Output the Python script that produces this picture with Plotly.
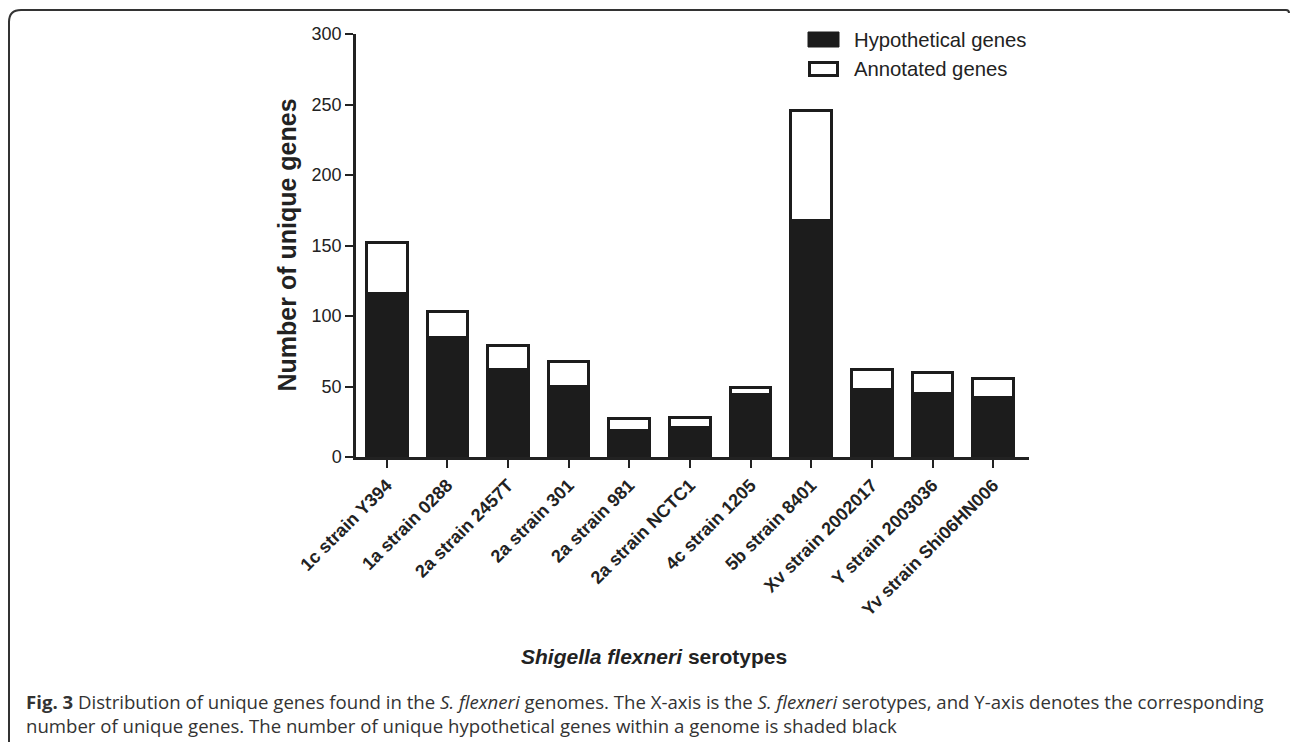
import plotly.graph_objects as go

categories = ["1c strain Y394", "1a strain 0288", "2a strain 2457T", "2a strain 301",
              "2a strain 981", "2a strain NCTC1", "4c strain 1205", "5b strain 8401",
              "Xv strain 2002017", "Y strain 2003036", "Yv strain Shi06HN006"]
hypothetical = [116, 85, 62, 50, 19, 21, 44, 168, 48, 45, 42]
annotated = [36, 18, 17, 18, 8, 7, 5, 78, 14, 15, 14]
y_ticks = [0, 50, 100, 150, 200, 250, 300]

W, H = 1290, 742
L, R, T, B = 356, 1029, 34, 457
DARK = "#1c1c1c"
AX = "#222222"
FONT = "Arial, Liberation Sans, sans-serif"
CAP_FONT = "Open Sans, sans-serif"


def px(x):
    return (x - L) / (R - L)


def py(y):
    return (B - y) / (B - T)


fig = go.Figure()
fig.add_trace(go.Bar(x=categories, y=hypothetical, name="Hypothetical genes",
                     marker=dict(color=DARK, line=dict(color=DARK, width=3)),
                     width=0.67, showlegend=False))
fig.add_trace(go.Bar(x=categories, y=annotated, name="Annotated genes",
                     marker=dict(color="white", line=dict(color=DARK, width=3)),
                     width=0.67, showlegend=False))

shapes = []
# legend boxes
shapes.append(dict(type="rect", xref="paper", yref="paper",
                   x0=px(808), x1=px(839), y0=py(47), y1=py(32),
                   fillcolor=DARK, line=dict(color=DARK, width=1)))
shapes.append(dict(type="rect", xref="paper", yref="paper",
                   x0=px(809.5), x1=px(837.5), y0=py(75.5), y1=py(62.5),
                   fillcolor="white", line=dict(color=DARK, width=3)))
# outer rounded frame
r = 12
path = (f"M {px(9)},{py(745)} L {px(9)},{py(10 + r)} "
        f"Q {px(9)},{py(10)} {px(9 + r)},{py(10)} "
        f"L {px(1286)},{py(10)} Q {px(1289)},{py(10)} {px(1289)},{py(13)}")
shapes.append(dict(type="path", xref="paper", yref="paper", path=path,
                   line=dict(color="#333333", width=2)))

annotations = [
    dict(text="Hypothetical genes", xref="paper", yref="paper", x=px(852), y=py(40),
         xanchor="left", yanchor="middle", showarrow=False,
         font=dict(family=FONT, size=20.3, color=AX)),
    dict(text="Annotated genes", xref="paper", yref="paper", x=px(852), y=py(69),
         xanchor="left", yanchor="middle", showarrow=False,
         font=dict(family=FONT, size=20.3, color=AX)),
    dict(text="<b>Number of unique genes</b>", xref="paper", yref="paper",
         x=px(286), y=0.5, textangle=-90, xanchor="center", yanchor="middle",
         showarrow=False, font=dict(family=FONT, size=25, color=AX)),
    dict(text="<b><i>Shigella flexneri</i> serotypes</b>", xref="paper", yref="paper",
         x=px(654), y=py(656), xanchor="center", yanchor="middle", showarrow=False,
         font=dict(family=FONT, size=21, color=AX)),
    dict(text="<b>Fig. 3</b> Distribution of unique genes found in the <i>S. flexneri</i> genomes. "
              "The X-axis is the <i>S. flexneri</i> serotypes, and Y-axis denotes the corresponding",
         xref="paper", yref="paper", x=px(24), y=py(701), xanchor="left", yanchor="middle",
         showarrow=False, font=dict(family=CAP_FONT, size=18.6, color="#333333")),
    dict(text="number of unique genes. The number of unique hypothetical genes within a genome is shaded black",
         xref="paper", yref="paper", x=px(24), y=py(725), xanchor="left", yanchor="middle",
         showarrow=False, font=dict(family=CAP_FONT, size=18.6, color="#333333")),
]

fig.update_layout(
    width=W, height=H,
    margin=dict(l=L, r=W - R, t=T, b=H - B, pad=0),
    paper_bgcolor="white", plot_bgcolor="white",
    barmode="stack",
    showlegend=False,
    shapes=shapes,
    annotations=annotations,
    xaxis=dict(type="category", range=[-0.506, 10.59], tickangle=-45,
               showline=True, linecolor=AX, linewidth=2.5,
               ticks="outside", ticklen=8, tickwidth=2, tickcolor=AX,
               showgrid=False, zeroline=False,
               tickfont=dict(family=FONT, size=18, color=AX),
               tickprefix="<b>", ticksuffix="</b>"),
    yaxis=dict(range=[0, 300], tickvals=y_ticks,
               showline=True, linecolor=AX, linewidth=2.5,
               ticks="outside", ticklen=8, tickwidth=2, tickcolor=AX,
               showgrid=False, zeroline=False,
               tickfont=dict(family=FONT, size=18, color=AX),
               tickprefix="<b>", ticksuffix="</b>"),
)

fig.write_html("out.html", post_script="document.body.style.margin='0';",
               config={"displayModeBar": False})
